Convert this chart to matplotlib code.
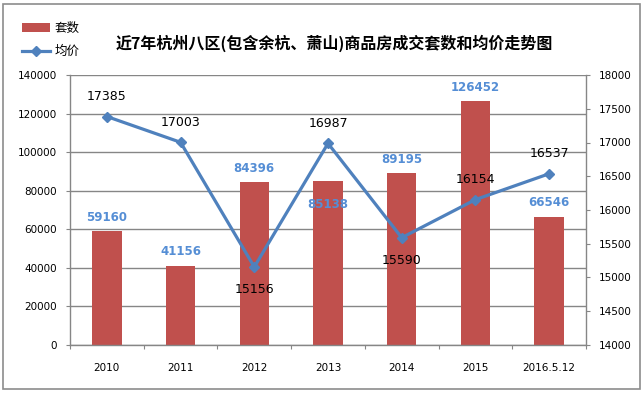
import matplotlib
matplotlib.use("Agg")
import matplotlib.pyplot as plt
from matplotlib.lines import Line2D
from matplotlib.patches import Patch, Rectangle
import numpy as np

categories = ["2010", "2011", "2012", "2013", "2014", "2015", "2016.5.12"]
units = [59160, 41156, 84396, 85138, 89195, 126452, 66546]
prices = [17385, 17003, 15156, 16987, 15590, 16154, 16537]
left_ticks = [0, 20000, 40000, 60000, 80000, 100000, 120000, 140000]
right_ticks = [14000, 14500, 15000, 15500, 16000, 16500, 17000, 17500, 18000]
title = "近7年杭州八区(包含余杭、萧山)商品房成交套数和均价走势图"
bar_name = "套数"
line_name = "均价"
price_label_below = [False, False, True, False, True, False, False]
unit_label_inside = [False, False, False, True, False, False, False]

BAR = "#C0504D"
LINE = "#4F81BD"
BARLBL = "#558ED5"
GRID = "#868686"
CJK = ["Noto Sans CJK SC", "DejaVu Sans"]

fig = plt.figure(figsize=(6.44, 3.93), dpi=100)
fig.patch.set_facecolor("white")
fig.patches.append(Rectangle((3/644, 1 - 389/393), 637/644, 385/393, transform=fig.transFigure,
                             fill=False, edgecolor="#8c8c8c", linewidth=1.2))

ax = fig.add_axes([70/644, 1 - 345/393, 516/644, 270/393])
x = np.arange(len(categories))
ax.bar(x, units, width=0.40, color=BAR, zorder=2)
ax.set_xlim(-0.5, len(categories) - 0.5)
ax.set_ylim(0, 140000)
ax.set_yticks(left_ticks)
ax.set_yticklabels([str(v) for v in left_ticks], fontsize=7.5)
ax.yaxis.grid(True, color=GRID, linewidth=1.0, zorder=0)
ax.set_axisbelow(True)
ax.set_xticks(np.arange(-0.5, len(categories), 1.0))
ax.set_xticklabels([])
ax.set_xticks(x, minor=True)
ax.set_xticklabels(categories, minor=True, fontsize=7.5)
ax.tick_params(axis="x", which="major", length=3, color=GRID, direction="out")
ax.tick_params(axis="x", which="minor", length=0, pad=13)
ax.tick_params(axis="y", length=3, color=GRID, pad=6.5)
for s in ["top", "right"]:
    ax.spines[s].set_visible(False)
for s in ["left", "bottom"]:
    ax.spines[s].set_color(GRID)
    ax.spines[s].set_linewidth(1.0)

for xi, v, inside in zip(x, units, unit_label_inside):
    off = -17 if inside else 10
    ax.annotate(str(v), (xi, v), xytext=(0, off), textcoords="offset points",
                ha="center", va="center", fontsize=8.5, fontweight="bold", color=BARLBL, zorder=5)

ax2 = ax.twinx()
ax2.plot(x, prices, color=LINE, linewidth=2.3, marker="D", markersize=5.5, zorder=4)
ax2.set_ylim(14000, 18000)
ax2.set_yticks(right_ticks)
ax2.set_yticklabels([str(v) for v in right_ticks], fontsize=7.5)
ax2.tick_params(axis="y", length=3, color=GRID, pad=6.5)
for s in ["top", "left", "bottom"]:
    ax2.spines[s].set_visible(False)
ax2.spines["right"].set_color(GRID)
ax2.spines["right"].set_linewidth(1.0)

for xi, v, below in zip(x, prices, price_label_below):
    off = -16.5 if below else 14.5
    ax2.annotate(str(v), (xi, v), xytext=(0, off), textcoords="offset points",
                 ha="center", va="center", fontsize=9, color="black", zorder=6)

fig.text(334/644, 1 - 43/393, title, ha="center", va="center", fontsize=11.5,
         fontweight="bold", family=CJK)

handles = [Patch(facecolor=BAR, edgecolor="none"),
           Line2D([0], [0], color=LINE, linewidth=2.3, marker="D", markersize=5.5)]
leg = fig.legend(handles, [bar_name, line_name], loc="center left",
                 bbox_to_anchor=(11/644, 1 - 40/393), frameon=False,
                 prop={"family": CJK, "size": 9}, handlelength=2.2, handleheight=0.8,
                 handletextpad=0.35, labelspacing=0.85)

fig.savefig("out.png", dpi=100, facecolor="white")
